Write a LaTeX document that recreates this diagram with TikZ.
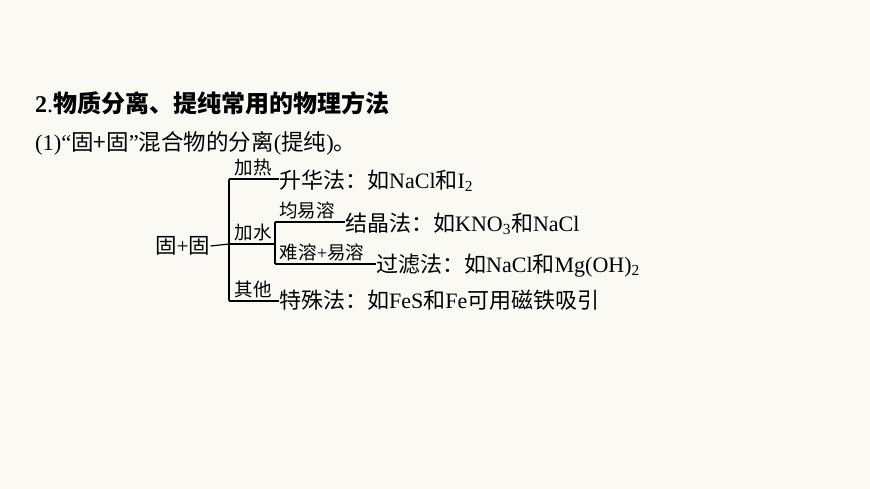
\documentclass[tikz,border=0pt]{standalone}
\usepackage{fontspec}
\setmainfont{Liberation Serif}
\newfontfamily\cjk{Noto Sans CJK SC}
\newcommand\zh[1]{{\cjk #1}}
\begin{document}
\begin{tikzpicture}[x=1pt,y=-1pt,
  txt/.style={anchor=west,inner sep=0pt,font=\fontsize{22}{22}\selectfont},
  lbl/.style={anchor=south,inner sep=0pt,font=\fontsize{18.5}{18.5}\selectfont},
  ln/.style={line width=1.2pt}]
\fill[fill={rgb,255:red,251;green,249;blue,244}] (0,0) rectangle (870,489);
\useasboundingbox (0,0) rectangle (870,489);
\node[anchor=west,inner sep=0pt,font=\fontsize{24}{24}\selectfont] (title) at (35,103) {\textbf{2}.\zh{\bfseries 物质分离、提纯常用的物理方法}};
\node[anchor=west,inner sep=0pt,font=\fontsize{22.5}{22.5}\selectfont] (sub) at (35,143) {(1)“\zh{固+固}”\zh{混合物的分离}(\zh{提纯})\zh{。}};
\node[anchor=west,inner sep=0pt,font=\fontsize{21.5}{21.5}\selectfont] (root) at (155,246) {\zh{固}+\zh{固}};
\coordinate (j) at (229,244);
\coordinate (jt) at (229,179);
\coordinate (jb) at (229,301);
\coordinate (k) at (275,244);
\coordinate (kt) at (275,222);
\coordinate (kb) at (275,264);
\node[txt] (a) at (279,181) {\zh{升华法：如}NaCl\zh{和}I\textsubscript{2}};
\node[txt] (b) at (345,224) {\zh{结晶法：如}KNO\textsubscript{3}\zh{和}NaCl};
\node[txt] (c) at (376,266) {\zh{过滤法：如}NaCl\zh{和}Mg(OH)\textsubscript{2}};
\node[txt] (d) at (279,300) {\zh{特殊法：如}FeS\zh{和}Fe\zh{可用磁铁吸引}};
\draw[ln] (root.east) -- (j);
\draw[ln] (jt) -- (jb);
\draw[ln] (jt) -- (a.west|-jt);
\draw[ln] (j) -- (k);
\draw[ln] (kt) -- (kb);
\draw[ln] (kt) -- (b.west|-kt);
\draw[ln] (kb) -- (c.west|-kb);
\draw[ln] (jb) -- (d.west|-jb);
\node[lbl] (l1) at (253,176) {\zh{加热}};
\node[lbl] (l2) at (253,241) {\zh{加水}};
\node[lbl] (l3) at (307,219) {\zh{均易溶}};
\node[lbl] (l4) at (322,261) {\zh{难溶}+\zh{易溶}};
\node[lbl] (l5) at (253,298) {\zh{其他}};
\end{tikzpicture}
\end{document}
